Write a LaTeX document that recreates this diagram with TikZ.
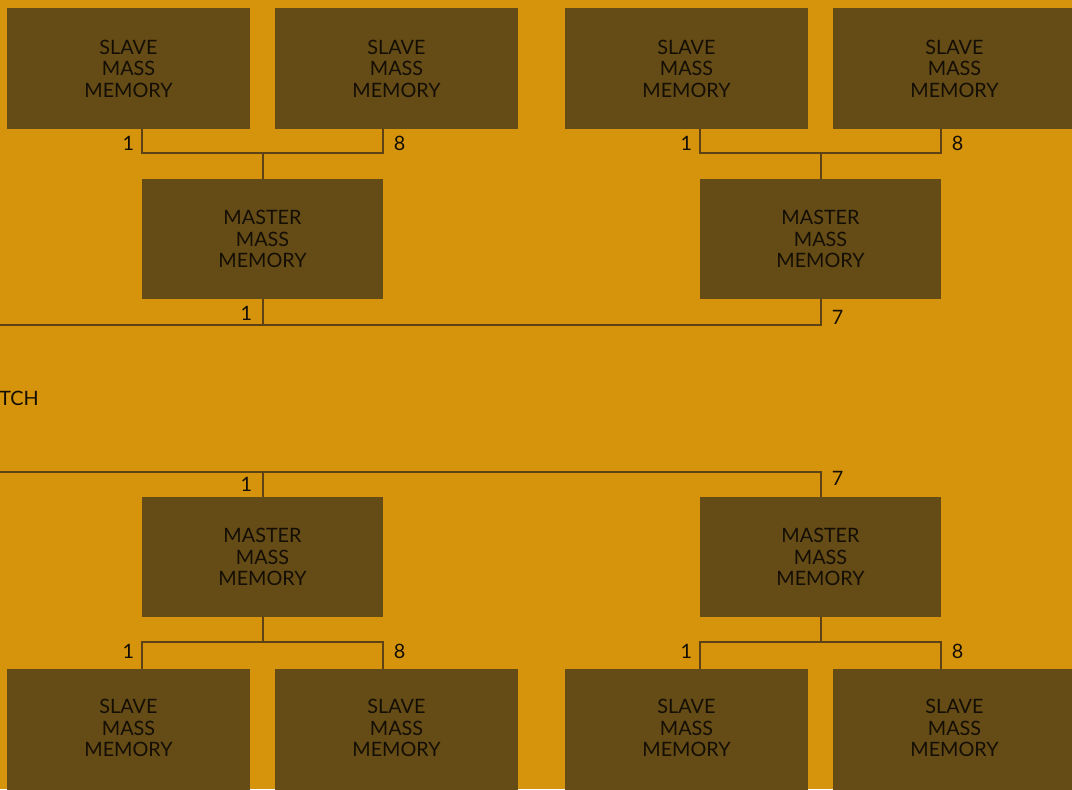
\documentclass[tikz,border=0pt]{standalone}
\usepackage{fontspec}
\setmainfont{Lato}
\usetikzlibrary{positioning,calc}
\definecolor{bgGold}{RGB}{213,148,12}
\definecolor{boxBrown}{RGB}{101,76,22}
\definecolor{lineBrown}{RGB}{92,66,20}
\definecolor{inkDark}{RGB}{20,14,4}

\begin{document}
\begin{tikzpicture}[
    x=0.5pt,y=-0.5pt,
    unit/.style={fill=boxBrown,inner sep=0pt,align=center,text=inkDark,
      font=\fontsize{9.9}{10.8}\selectfont},
    slave/.style={unit,minimum width=121.5pt,minimum height=60.5pt},
    slave low/.style={slave,minimum height=66pt,text depth=7pt},
    master/.style={unit,minimum width=120.5pt,minimum height=60pt},
    link/.style={draw=lineBrown,line width=1pt},
    num/.style={text=inkDark,font=\fontsize{9.9}{10.8}\selectfont,inner sep=0pt}
  ]
  \fill[bgGold] (0,0) rectangle (1072,789);
  \useasboundingbox (0,0) rectangle (1072,789);

  % four groups: two slaves hanging on one master
  \foreach \g/\cx/\sy/\st/\my/\jy/\sa/\ma/\la/\ra/\dy in {
      A/262.5/68.5/slave/239/153/south/north/south east/south west/-2,
      B/820.5/68.5/slave/239/153/south/north/south east/south west/-2,
      C/262.5/735/slave low/557/642/north/south/north east/north west/2,
      D/820.5/735/slave low/557/642/north/south/north east/north west/2}{
    \node[\st] (s\g1) at (\cx-134,\sy) {SLAVE\\MASS\\MEMORY};
    \node[\st] (s\g8) at (\cx+134,\sy) {SLAVE\\MASS\\MEMORY};
    \node[master] (m\g) at (\cx,\my) {MASTER\\MASS\\MEMORY};
    \coordinate (j\g) at (\cx,\jy);
    \draw[link] (s\g1.\sa -| m\g.west) |- (j\g) -| (s\g8.\sa -| m\g.east);
    \draw[link] (m\g.\ma) -- (j\g);
    \node[num,anchor=\la] (n\g1) at ($(j\g -| m\g.west)+(-7,\dy)$) {1};
    \node[num,anchor=\ra] (n\g8) at ($(j\g -| m\g.east)+(10,\dy)$) {8};
  }

  % switch buses
  \coordinate (busT) at (0,325);
  \coordinate (busB) at (0,472);
  \draw[link] (mB.south) |- (busT);
  \draw[link] (mA.south) -- (mA.south |- busT);
  \draw[link] (mD.north) |- (busB);
  \draw[link] (mC.north) -- (mC.north |- busB);
  \node[num,anchor=east] (pA) at ($(mA.south)+(-10,14)$) {1};
  \node[num,anchor=west] (pB) at ($(mB.south)+(11,18)$) {7};
  \node[num,anchor=east] (pC) at ($(mC.north)+(-10,-12)$) {1};
  \node[num,anchor=west] (pD) at ($(mD.north)+(11,-18.5)$) {7};

  \node[num,anchor=west] (sw) at (-1,398) {TCH};
\end{tikzpicture}
\end{document}
